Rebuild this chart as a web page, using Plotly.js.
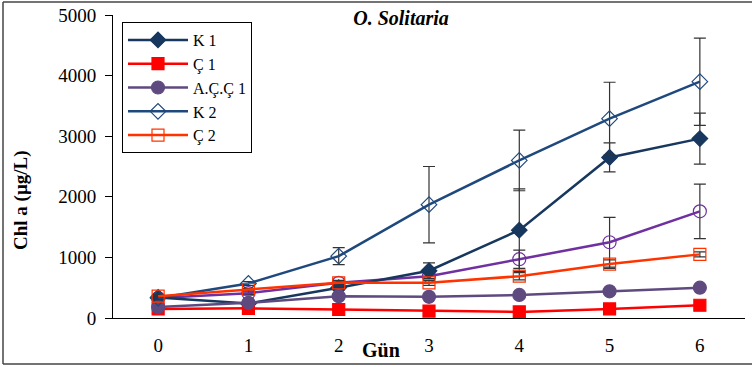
<!DOCTYPE html>
<html><head><meta charset="utf-8">
<script src="https://cdn.plot.ly/plotly-3.0.1.min.js"></script>
<style>body{margin:0;background:#fff}#c{width:752px;height:367px}</style>
</head><body><div id="c"></div>
<script>
const days = [0,1,2,3,4,5,6];
const tickLabels = ['0','1','2','3','4','5','6'];
const k1 = [340,240,500,780,1450,2650,2960];
const k1Err = [30,30,40,130,680,240,420];
const c1 = [150,160,140,115,100,150,210];
const c1Err = [0,0,0,0,0,0,0];
const acc1 = [180,250,360,350,380,440,500];
const acc1Err = [0,0,0,0,0,0,0];
const k2 = [330,570,1020,1870,2600,3290,3900];
const k2Err = [30,30,140,630,500,600,720];
const c2 = [360,470,580,580,690,890,1050];
const c2Err = [20,20,40,40,60,70,40];
const acc2 = [330,410,580,690,970,1250,1760];
const acc2Err = [20,20,30,40,150,410,450];

function tr(name, y, err, color, symbol, size, show){
  return {x: days, y: y, name: name, type:'scatter', mode:'lines+markers', showlegend: show,
    line:{color:color, width:2.5},
    marker:{symbol:symbol, size:size, color:color, line:{color:color, width:1.2}},
    error_y:{type:'data', array:err, visible:true, color:'#333', thickness:1.2, width:6}};
}
const data = [
  tr('A.Ç.Ç 2', acc2, acc2Err, '#7030A0', 'circle-open', 13, false),
  tr('K 1', k1, k1Err, '#17375E', 'diamond', 12, true),
  tr('Ç 1', c1, c1Err, '#FF0000', 'square', 12, true),
  tr('A.Ç.Ç 1', acc1, acc1Err, '#5F4A80', 'circle', 13, true),
  tr('K 2', k2, k2Err, '#1F497D', 'diamond-open', 12, true),
  tr('Ç 2', c2, c2Err, '#FF3300', 'square-open', 12, true)
];
const px = v => (v-113)/632, py = v => (318-v)/303;
const SERIF = "Times New Roman, Liberation Serif, DejaVu Serif, serif";
const layout = {
  width:752, height:367, margin:{l:113,r:7,t:15,b:49},
  paper_bgcolor:'#fff', plot_bgcolor:'#fff',
  font:{family:SERIF, color:'#000', size:19},
  title:{text:'<b><i>O. Solitaria</i></b>', x:401/752, xanchor:'center', y:1-18/367, yanchor:'middle', font:{family:SERIF, size:20}},
  xaxis:{range:[-0.5,6.5], tickvals:days, ticktext:tickLabels, showline:true, linecolor:'#000', linewidth:1,
    ticks:'', showgrid:false, zeroline:false, tickfont:{family:SERIF, size:19}, ticklabelstandoff:10, fixedrange:true},
  yaxis:{range:[0,5000], dtick:1000, showline:true, linecolor:'#000', linewidth:1, ticks:'outside', ticklen:7,
    tickcolor:'#000', showgrid:false, zeroline:false, tickfont:{family:SERIF, size:19}, ticklabelstandoff:5},
  showlegend:true,
  legend:{x:px(122), y:py(22), xanchor:'left', yanchor:'top', bordercolor:'#000', borderwidth:1, bgcolor:'#fff',
    font:{family:SERIF, size:16}, tracegroupgap:0, traceorder:'normal', itemwidth:60},
  annotations:[
    {text:'<b>Gün</b>', xref:'paper', yref:'paper', x:px(381), y:py(350), xanchor:'center', yanchor:'middle', showarrow:false, font:{family:SERIF, size:20}},
    {text:'<b>Chl a (µg/L)</b>', xref:'paper', yref:'paper', x:px(21), y:py(200), xanchor:'center', yanchor:'middle', textangle:-90, showarrow:false, font:{family:SERIF, size:19}}
  ],
  shapes:[
    {type:'line', xref:'paper', yref:'paper', x0:px(3), x1:px(752), y0:py(2), y1:py(2), line:{color:'#444', width:1.5}},
    {type:'line', xref:'paper', yref:'paper', x0:px(3), x1:px(752), y0:py(364), y1:py(364), line:{color:'#444', width:1.5}},
    {type:'line', xref:'paper', yref:'paper', x0:px(3), x1:px(3), y0:py(2), y1:py(364), line:{color:'#444', width:1.5}}
  ]
};
Plotly.newPlot('c', data, layout, {displayModeBar:false, staticPlot:true});
</script></body></html>
